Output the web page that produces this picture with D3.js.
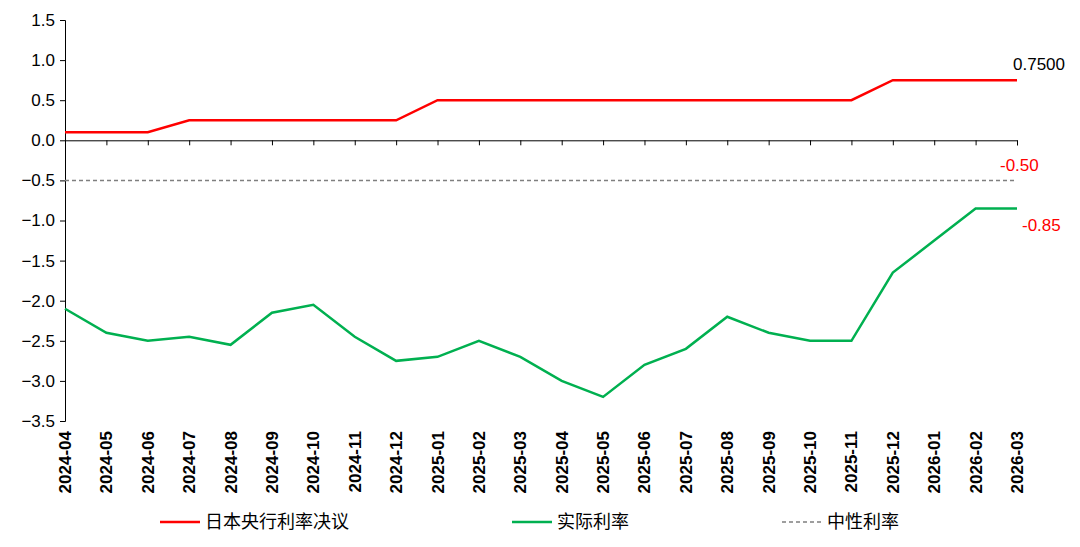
<!DOCTYPE html>
<html><head><meta charset="utf-8">
<script src="https://cdn.jsdelivr.net/npm/d3@7"></script>
<style>body{margin:0;background:#fff}text{font-family:"Liberation Sans","Noto Sans CJK SC",sans-serif}</style>
</head><body><svg id="c" width="1080" height="547"></svg>
<script>
const months=["2024-04","2024-05","2024-06","2024-07","2024-08","2024-09","2024-10","2024-11","2024-12","2025-01","2025-02","2025-03","2025-04","2025-05","2025-06","2025-07","2025-08","2025-09","2025-10","2025-11","2025-12","2026-01","2026-02","2026-03"];
const boj=[0.1,0.1,0.1,0.25,0.25,0.25,0.25,0.25,0.25,0.5,0.5,0.5,0.5,0.5,0.5,0.5,0.5,0.5,0.5,0.5,0.75,0.75,0.75,0.75];
const real=[-2.1,-2.4,-2.5,-2.45,-2.55,-2.15,-2.05,-2.45,-2.75,-2.7,-2.5,-2.7,-3.0,-3.2,-2.8,-2.6,-2.2,-2.4,-2.5,-2.5,-1.65,-1.25,-0.85,-0.85];
const neutral=months.map(()=>-0.5);
const yTicks=[1.5,1.0,0.5,0.0,-0.5,-1.0,-1.5,-2.0,-2.5,-3.0,-3.5];
const names=["日本央行利率决议","实际利率","中性利率"];

const svg=d3.select("#c");
const x=d3.scalePoint().domain(months).range([65,1017]);
const y=d3.scaleLinear().domain([-3.5,1.5]).range([421,20]);
const yA=svg.append("g").attr("transform","translate(65,0)").call(d3.axisLeft(y).tickValues(yTicks).tickFormat(d3.format(".1f")).tickSize(5));
yA.selectAll("text").attr("font-size",17).attr("fill","#000").attr("dx",-2);
yA.select(".domain").attr("stroke","#000");
yA.selectAll("line").attr("stroke","#000");
const xA=svg.append("g").attr("transform",`translate(0,${y(0)})`).call(d3.axisBottom(x).tickSize(5).tickFormat(""));
xA.select(".domain").attr("stroke","#000");
xA.selectAll("line").attr("stroke","#000");
svg.append("g").selectAll("text").data(months).join("text")
 .attr("transform",d=>`translate(${x(d)+6},431) rotate(-90)`).attr("text-anchor","end")
 .attr("font-size",17).attr("font-weight","bold").attr("fill","#000").text(d=>d);
const line=d3.line().x((d,i)=>x(months[i])).y(d=>y(d));
svg.append("path").datum(neutral).attr("d",line).attr("fill","none").attr("stroke","#7f7f7f").attr("stroke-width",1.5).attr("stroke-dasharray","4,3");
svg.append("path").datum(boj).attr("d",line).attr("fill","none").attr("stroke","#ff0000").attr("stroke-width",2.5);
svg.append("path").datum(real).attr("d",line).attr("fill","none").attr("stroke","#00b050").attr("stroke-width",2.5);
const last=months.length-1;
svg.append("text").attr("x",x(months[last])-4).attr("y",y(boj[last])-10).attr("font-size",17).text("0.7500");
svg.append("text").attr("x",x(months[last])-17).attr("y",y(-0.5)-9).attr("font-size",17).attr("fill","#ff0000").text("-0.50");
svg.append("text").attr("x",x(months[last])+5).attr("y",y(real[last])+23).attr("font-size",17).attr("fill","#ff0000").text("-0.85");
const lg=[[160,"#ff0000",null],[512,"#00b050",null],[782,"#7f7f7f","4,3"]];
lg.forEach((l,i)=>{
 svg.append("line").attr("x1",l[0]).attr("x2",l[0]+40).attr("y1",522).attr("y2",522).attr("stroke",l[1]).attr("stroke-width",i==2?1.5:2.5).attr("stroke-dasharray",l[2]);
 svg.append("text").attr("x",l[0]+45).attr("y",528).attr("font-size",18).text(names[i]);
});
</script></body></html>
